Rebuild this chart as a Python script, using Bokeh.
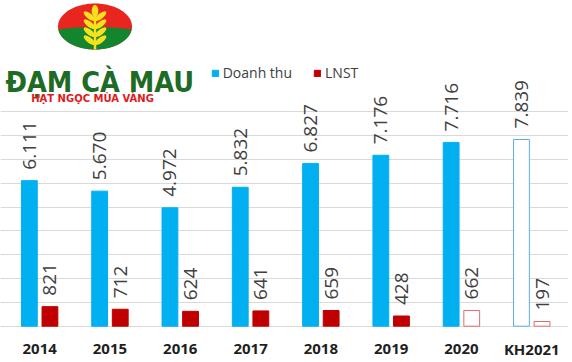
import numpy as np
from bokeh.plotting import figure
from bokeh.models import Range1d, ColumnDataSource, Grid, FixedTicker, Legend, LegendItem
from bokeh.core.properties import value
from bokeh.embed import file_html
from bokeh.resources import INLINE

# ---------------- data ----------------
categories = ["2014", "2015", "2016", "2017", "2018", "2019", "2020", "KH2021"]
revenue = [6111, 5670, 4972, 5832, 6827, 7176, 7716, 7839]      # Doanh thu
profit = [821, 712, 624, 641, 659, 428, 662, 197]                 # LNST
revenue_planned = [False, False, False, False, False, False, False, True]
profit_planned = [False, False, False, False, False, False, True, True]
series_names = ["Doanh thu", "LNST"]
grid_ticks = [0, 1000, 2000, 3000, 4000, 5000, 6000, 7000, 8000, 9000]

# ---------------- layout ----------------
W, H = 568, 358
XR0, XR1 = -0.5569, 7.5228
YR0, YR1 = -1356.0, 13673.0

BLUE = "#00B0F0"
RED = "#C00000"
BLUE_LINE = "#5BAEE0"
RED_LINE = "#E46A6A"
LABEL_COLOR = "#404040"
FONT = "Open Sans"

p = figure(width=W, height=H, x_range=Range1d(XR0, XR1), y_range=Range1d(YR0, YR1),
           output_backend="svg", toolbar_location=None,
           x_axis_location=None, y_axis_location=None,
           min_border=0, outline_line_color=None)
p.grid.visible = False
p.add_layout(Grid(dimension=1, ticker=FixedTicker(ticks=grid_ticks),
                  grid_line_color="#D9D9D9", grid_line_width=1))

OFF = 0.1465
BW = 0.225


def fmt(v):
    return f"{v:,}".replace(",", ".")


def split(values, planned, offset):
    idx = np.arange(len(values))
    filled = dict(x=[i + offset for i in idx if not planned[i]],
                  top=[values[i] for i in idx if not planned[i]])
    hollow = dict(x=[i + offset for i in idx if planned[i]],
                  top=[values[i] for i in idx if planned[i]])
    labels = dict(x=[i + offset for i in idx], y=values, text=[fmt(v) for v in values])
    return ColumnDataSource(filled), ColumnDataSource(hollow), ColumnDataSource(labels)


rf, rh, rl = split(revenue, revenue_planned, -OFF)
pf, ph, pl = split(profit, profit_planned, OFF)

r_rev = p.vbar(x="x", top="top", bottom=0, width=BW, source=rf,
               fill_color=BLUE, line_color=BLUE)
p.vbar(x="x", top="top", bottom=0, width=BW, source=rh,
       fill_color="white", line_color=BLUE_LINE, line_width=1)
r_prof = p.vbar(x="x", top="top", bottom=0, width=BW, source=pf,
                fill_color=RED, line_color=RED)
p.vbar(x="x", top="top", bottom=0, width=BW, source=ph,
       fill_color="white", line_color=RED_LINE, line_width=1)

for src in (rl, pl):
    p.text(x="x", y="y", text="text", source=src, angle=np.pi / 2,
           text_align="left", text_baseline="middle", y_offset=-11,
           text_font=value(FONT), text_font_size="19px", text_color=LABEL_COLOR)

cat_src = ColumnDataSource(dict(x=list(range(len(categories))), y=[0] * len(categories),
                                text=categories))
p.text(x="x", y="y", text="text", source=cat_src, y_offset=23,
       text_align="center", text_baseline="middle",
       text_font=value(FONT), text_font_style="bold", text_font_size="15px",
       text_color="#1F1F1F")

legend = Legend(items=[LegendItem(label=series_names[0], renderers=[r_rev]),
                       LegendItem(label=series_names[1], renderers=[r_prof])],
                orientation="horizontal", location=(210.7, 276),
                glyph_width=8, glyph_height=8, label_standoff=4, spacing=21,
                padding=0, margin=0, border_line_color=None, background_fill_alpha=0,
                label_text_font=FONT, label_text_font_size="14px",
                label_text_color=LABEL_COLOR)
p.add_layout(legend)


# ---------------- logo (decoration, drawn in pixel space) ----------------
def d(sx, sy):
    fx = np.asarray(sx, dtype=float)
    fy = np.asarray(sy, dtype=float)
    return (XR0 + fx / W * (XR1 - XR0), YR1 - fy / H * (YR1 - YR0))


cx, cy, rx, ry = 94.5, 26.0, 37.0, 23.0
t = np.linspace(0, 2 * np.pi, 120)
ex, ey = d(cx + rx * np.cos(t), cy + ry * np.sin(t))
p.patch(ex, ey, fill_color="#E8251F", line_color=None)

xs = np.linspace(cx - rx + 0.3, cx + rx - 0.3, 80)
u = (xs - cx) / rx
y_low = cy + ry * np.sqrt(1 - u ** 2)
y_bnd = np.minimum(26.5 + 2.5 * u ** 2, y_low)
gx = np.concatenate([xs, xs[::-1]])
gy = np.concatenate([y_low, y_bnd[::-1]])
gxx, gyy = d(gx, gy)
p.patch(gxx, gyy, fill_color="#13852E", line_color=None)

YELLOW = "#F6E11B"


def leaf(x0, y0, length, width, ang):
    tt = np.linspace(0, 2 * np.pi, 40)
    lx = length / 2 * np.cos(tt)
    ly = width / 2 * np.sin(tt)
    ca, sa = np.cos(ang), np.sin(ang)
    X = x0 + lx * ca - ly * sa
    Y = y0 - (lx * sa + ly * ca)
    return d(X, Y)


sx0, sy0 = d([94.5, 94.5], [14, 49])
p.line(sx0, sy0, line_color=YELLOW, line_width=2.5)
lx, ly = leaf(94.5, 10.5, 12, 6.5, np.pi / 2)
p.patch(lx, ly, fill_color=YELLOW, line_color=None)
for yy in (20, 28, 36, 44):
    for sgn in (-1, 1):
        a = np.deg2rad(38)
        ang = a if sgn > 0 else np.pi - a
        L = 14
        x0 = 94.5 + sgn * np.cos(a) * L / 2
        y0 = yy - np.sin(a) * L / 2
        lx, ly = leaf(x0, y0, L, 5.5, ang)
        p.patch(lx, ly, fill_color=YELLOW, line_color=None)

tx, ty = d(5, 81.5)
p.text(x=[float(tx)], y=[float(ty)], text=["ĐẠM CÀ MAU"], text_align="left",
       text_baseline="alphabetic", text_font=value("DejaVu Sans Condensed"),
       text_font_style="bold", text_font_size="28.5px", text_color="#1D6B24")
tx, ty = d(92, 98.3)
p.text(x=[float(tx)], y=[float(ty)], text=["HẠT NGỌC MÙA VÀNG"], text_align="center",
       text_baseline="alphabetic", text_font=value("DejaVu Sans"),
       text_font_style="bold", text_font_size="10px", text_color="#E0191A")

open("out.html", "w").write(file_html(p, INLINE))
